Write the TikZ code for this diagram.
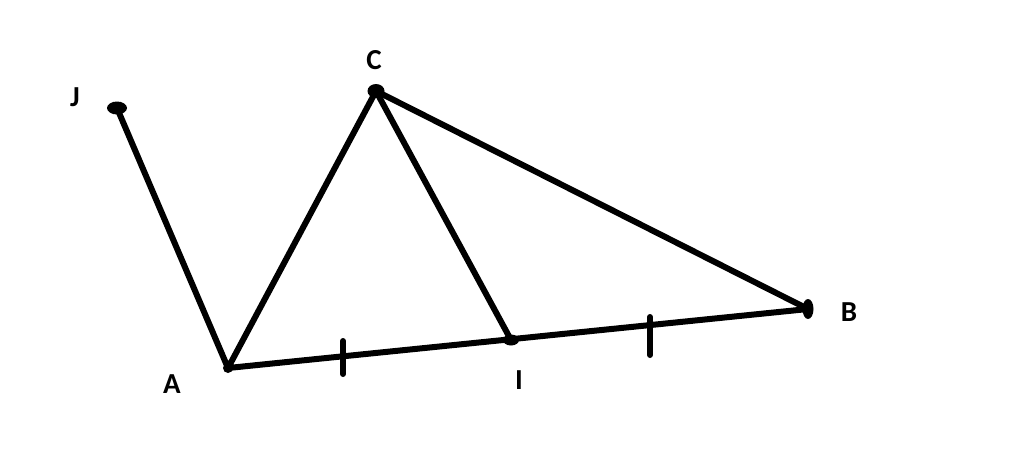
\documentclass[tikz,border=0pt]{standalone}
\usepackage{fontspec}
\setmainfont{Carlito}
\begin{document}
\begin{tikzpicture}[x=1pt,y=-1pt,
  seg/.style={line width=6pt,line cap=round,line join=round},
  lbl/.style={font=\fontsize{29}{29}\selectfont\bfseries,inner sep=0pt}]
\useasboundingbox (0,0) rectangle (1024,451);
\fill[white] (0,0) rectangle (1024,451);
\coordinate (J) at (117,108);
\coordinate (C) at (376,91);
\coordinate (B) at (808,309);
\coordinate (A) at (228,368);
\coordinate (I) at (511,340);
\coordinate (t1a) at (343,341);
\coordinate (t1b) at (343,374);
\coordinate (t2a) at (650,317);
\coordinate (t2b) at (650,355);
\draw[seg] (J) -- (A) -- (C) -- (B) -- (A);
\draw[seg] (C) -- (I);
\draw[seg] (t1a) -- (t1b);
\draw[seg] (t2a) -- (t2b);
\fill (J) ellipse (10 and 6.5);
\fill (C) ellipse (8.5 and 7);
\fill (B) ellipse (5.5 and 10);
\fill (I) ellipse (8 and 5.5);
\fill (A) ellipse (5 and 5);
\node[lbl] (lJ) at (75,97) {J};
\node[lbl] (lC) at (374,60) {C};
\node[lbl] (lB) at (849,312) {B};
\node[lbl] (lA) at (172,384) {A};
\node[lbl] (lI) at (519,380) {I};
\end{tikzpicture}
\end{document}
